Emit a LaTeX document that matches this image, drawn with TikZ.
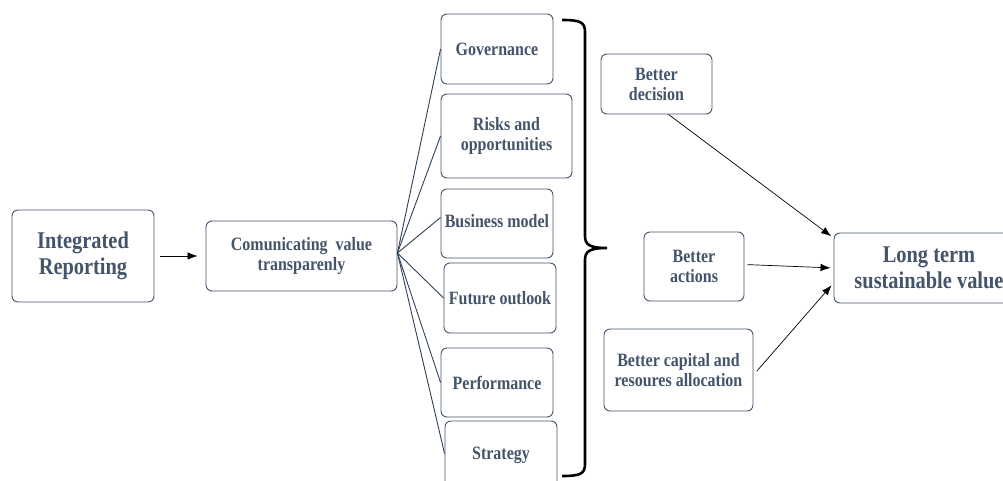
\documentclass[tikz,border=0pt]{standalone}
\usepackage{fontspec}
\setmainfont{Liberation Serif}[FakeStretch=0.85]
\usetikzlibrary{arrows.meta,calc}
\definecolor{slate}{HTML}{44546A}
\definecolor{fanc}{HTML}{2F3F55}
\tikzset{
  box/.style={draw=slate, line width=0.9pt, rounded corners=6pt, fill=white,
    text=slate, font=\bfseries\fontsize{18.8}{20}\selectfont, align=center, inner sep=0pt},
  bigbox/.style={box, font=\bfseries\fontsize{24}{26.5}\selectfont},
  fan/.style={draw=fanc, line width=0.9pt},
  arr/.style={draw=black, line width=0.7pt, -{Latex[length=10pt,width=7.5pt]}},
  bracket/.style={draw=black, line width=2.6pt}
}
\begin{document}
\begin{tikzpicture}[x=1pt,y=-1pt]
\useasboundingbox (0,0) rectangle (1003,481);
% left part
\node[bigbox, minimum width=142pt, minimum height=92pt] (ir) at (83,256) {Integrated\\Reporting};
\node[box, minimum width=191pt, minimum height=70pt] (cv) at (301.5,256) {Comunicating~~value\\transparenly};
% middle column
\node[box, minimum width=112pt, minimum height=70pt] (gov) at (497,49) {Governance};
\node[box, minimum width=131pt, minimum height=84pt] (risk) at (506.5,136) {Risks and\\opportunities};
\node[box, minimum width=112pt, minimum height=69pt] (bm) at (497,223.5) {\raisebox{6pt}{Business model}};
\node[box, minimum width=112pt, minimum height=70pt] (fo) at (500,298) {Future outlook};
\node[box, minimum width=112pt, minimum height=69pt] (perf) at (497,382.5) {Performance};
\node[box, minimum width=112pt, minimum height=69pt] (strat) at (501,455.5) {Strategy};
% right part
\node[box, minimum width=111pt, minimum height=60pt] (bd) at (656.5,84) {Better\\decision};
\node[box, minimum width=100pt, minimum height=69pt] (ba) at (694,266.5) {Better\\actions};
\node[box, minimum width=149pt, minimum height=82pt] (bc) at (678.5,370) {Better capital and\\resoures allocation};
\node[bigbox, minimum width=190pt, minimum height=70pt] (lt) at (929,268) {Long term\\sustainable value};
% connectors
\draw[arr, shorten <=6pt, shorten >=8pt] (ir) -- (cv);
\coordinate (fo0) at ([yshift=3pt]cv.east);
\draw[fan] (fo0) -- (gov.west);
\draw[fan] (fo0) -- (risk.west);
\draw[fan] (fo0) -- ([yshift=6pt]bm.west);
\draw[fan] (fo0) -- (fo.west);
\draw[fan] (fo0) -- (perf.west);
\draw[fan] (fo0) -- ([yshift=2pt]strat.west);
% bracket
\draw[bracket] (562,20) .. controls (580,20) and (585,22) .. (585,32) -- (585,236)
  .. controls (585,245) and (590,248) .. (607,248)
  .. controls (590,248) and (585,251) .. (585,260) -- (585,464)
  .. controls (585,474) and (580,476) .. (562,476);
% arrows to long term
\draw[arr, shorten >=3pt] ([xshift=12pt]bd.south) -- ([yshift=30pt]lt.west);
\draw[arr, shorten <=3pt, shorten >=3pt] ([yshift=2pt]ba.east) -- (lt.west);
\draw[arr, shorten <=5pt, shorten >=3pt] ([yshift=-5pt]bc.east) -- ([yshift=-15pt]lt.west);
\end{tikzpicture}
\end{document}
